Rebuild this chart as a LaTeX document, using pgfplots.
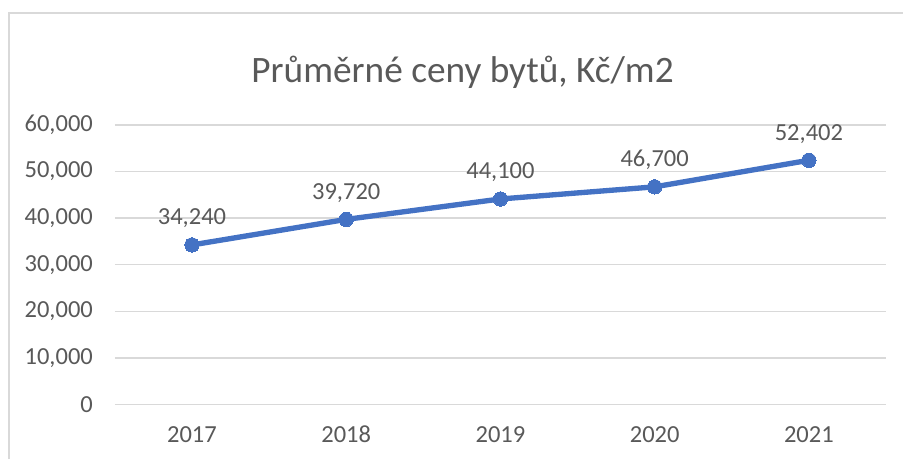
\documentclass[border=0pt]{standalone}
\usepackage{fontspec}
\setmainfont{Carlito}
\usepackage{pgfplots}
\pgfplotsset{compat=1.18}
\definecolor{txt}{HTML}{595959}
\definecolor{gridc}{HTML}{D9D9D9}
\definecolor{linec}{HTML}{4472C4}
\begin{document}
\begin{tikzpicture}
\begin{axis}[
  name=ax,
  scale only axis,
  width=579pt, height=210pt,
  xmin=-0.5, xmax=4.5,
  ymin=0, ymax=60000,
  xtick={0,1,2,3,4},
  xticklabels={2017,2018,2019,2020,2021},
  ytick={0,10000,20000,30000,40000,50000,60000},
  scaled y ticks=false,
  yticklabel={\pgfmathprintnumber[assume math mode=true,fixed,1000 sep={,}]{\tick}},
  axis line style={draw=none},
  axis x line*=bottom,
  axis y line*=left,
  major tick length=0pt,
  ymajorgrids=true,
  grid style={gridc, line width=1pt},
  ticklabel style={font=\fontsize{18.4}{22}\selectfont, text=txt},
  xticklabel style={anchor=base, yshift=-28.5pt},
  yticklabel style={xshift=-13pt},
  clip=false,
  nodes near coords,
  point meta=explicit symbolic,
  every node near coord/.style={font=\fontsize{18.4}{22}\selectfont, text=txt, anchor=base, yshift=15pt},
]
\draw[gridc, line width=1pt] (rel axis cs:0,0) -- (rel axis cs:1,0);
\addplot[color=linec, line width=4pt, mark=*, mark size=5.4pt, mark options={fill=linec, line width=0pt}]
  coordinates {(0,34240) [34,240] (1,39720) [39,720] (2,44100) [44,100] (3,46700) [46,700] (4,52402) [52,402]};
\coordinate (pa) at (rel axis cs:0,0);
\coordinate (pb) at (rel axis cs:1,1);
\end{axis}
\node[font=\fontsize{28}{32}\selectfont, text=txt, anchor=base] at ([xshift=261pt, yshift=31.5pt]pa |- pb) {Průměrné ceny bytů, Kč/m2};
\draw[gridc, line width=1pt] ([xshift=-79.5pt, yshift=-41pt]pa) -- ([xshift=-79.5pt, yshift=84pt]pa |- pb) -- ([xshift=13pt, yshift=84pt]pb);
\useasboundingbox ([xshift=-86.25pt, yshift=-40.5pt]pa) rectangle ([xshift=12.75pt, yshift=93.75pt]pb);
\end{tikzpicture}
\end{document}
